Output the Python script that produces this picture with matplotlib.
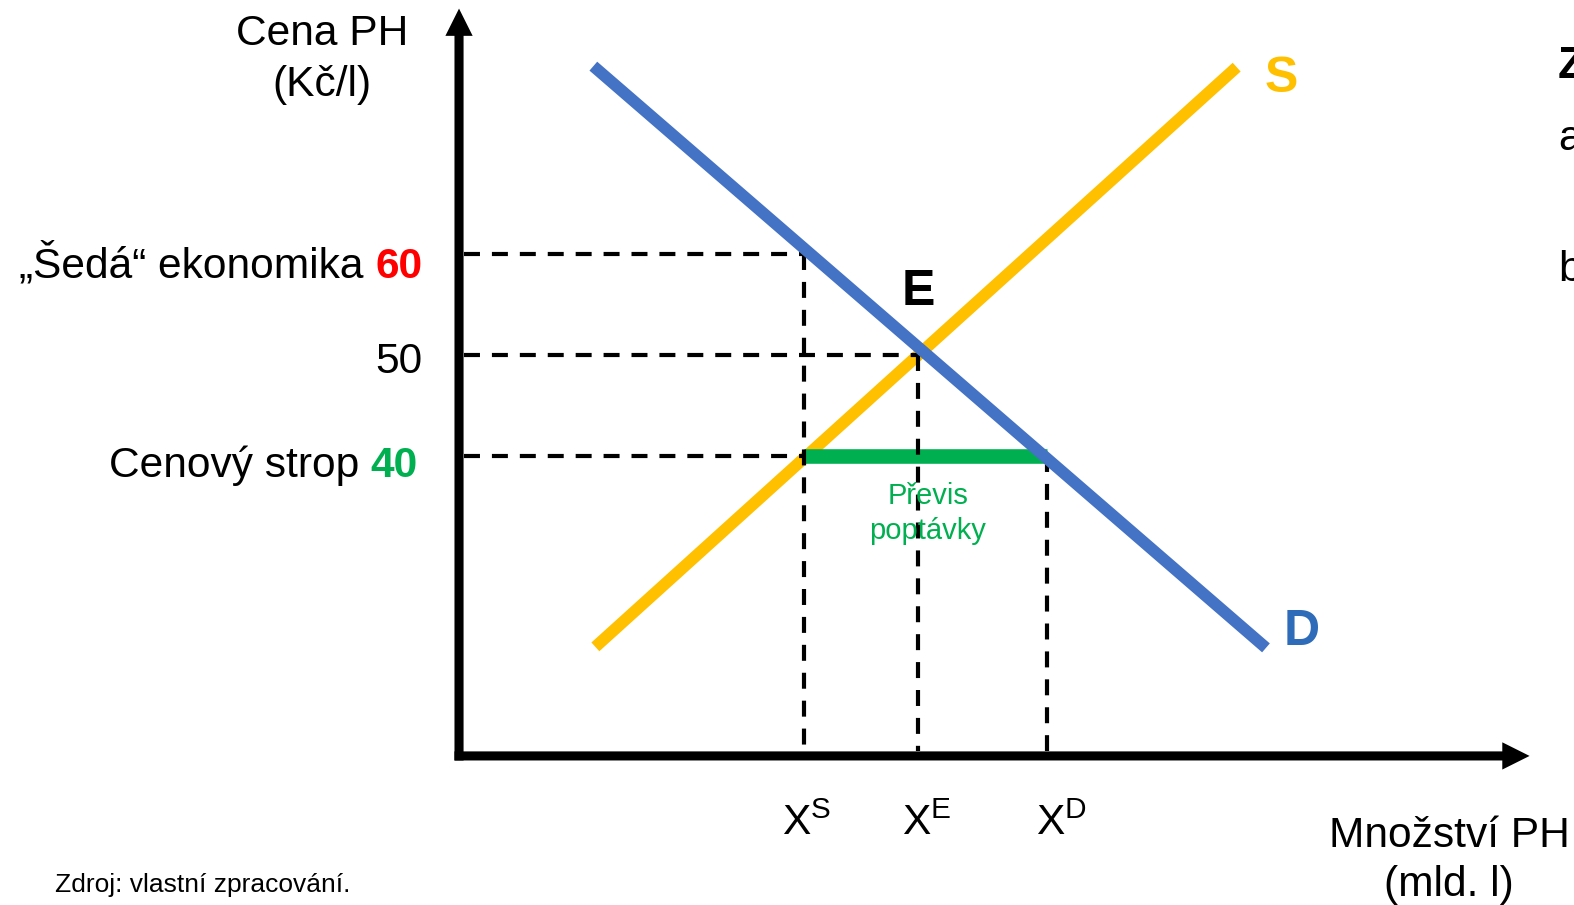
import matplotlib.pyplot as plt

plt.rcParams['font.family'] = ['Liberation Sans', 'DejaVu Sans']
plt.rcParams['mathtext.fontset'] = 'custom'
plt.rcParams['mathtext.rm'] = 'Liberation Sans'
plt.rcParams['lines.scale_dashes'] = False

# price levels (Kč/l) and their labels
price_levels = [60, 50, 40]
price_names = ['„Šedá“ ekonomika', '', 'Cenový strop']
price_colors = ['#FF0000', 'black', '#00B050']
price_weights = ['bold', 'normal', 'bold']
price_line_end = [34.2, 45.4, 34.2]     # quantity where the dashed line stops

# quantities on the x axis (schematic units)
x_marks = [34.2, 45.4, 58.2]
x_mark_tops = [60, 50, 40]
x_mark_names = ['S', 'E', 'D']

# supply and demand curves
supply_q = [13.5, 77.0]
supply_p = [21.1, 78.5]
demand_q = [13.3, 79.9]
demand_p = [78.6, 21.0]

# price ceiling and excess demand
ceiling = 40
excess_q = [34.2, 58.2]

q0, p0 = 0, 10.3          # axis origin
q_end, p_end = 106.0, 84.3  # arrow tips

yellow = '#FFC000'
blue = '#4472C4'
green = '#00B050'
FS = 30.6


def px(x, y):
    # pixel position of the original slide -> data units
    return (x - 459) / 10.1, 40 - (y - 456) / 10.1


fig = plt.figure(figsize=(15.74, 9.05), dpi=100)
ax = fig.add_axes([0, 0, 1, 1])
ax.set_xlim(-45.45, 110.4)
ax.set_ylim(-4.46, 85.15)
ax.axis('off')

# axes with arrows
ax.arrow(q0, p0 - 0.45, 0, p_end - p0 + 0.45, width=0.9, head_width=2.7,
         head_length=2.7, length_includes_head=True, color='black', lw=0, zorder=5)
ax.arrow(q0 - 0.45, p0, q_end - q0 + 0.45, 0, width=0.9, head_width=2.7,
         head_length=2.7, length_includes_head=True, color='black', lw=0, zorder=5)

# curves
ax.plot(supply_q, supply_p, color=yellow, lw=8.5, solid_capstyle='butt', zorder=2)
ax.plot(excess_q, [ceiling, ceiling], color=green, lw=10.5, solid_capstyle='butt', zorder=2.5)
ax.plot(demand_q, demand_p, color=blue, lw=8.5, solid_capstyle='butt', zorder=3)

dash = dict(color='black', lw=3.0, linestyle=(0, (11.5, 8.6)), zorder=2.7)
for p, q_stop in zip(price_levels, price_line_end):
    ax.plot([q0 + 0.45, q_stop], [p, p], **dash)
for q, top in zip(x_marks, x_mark_tops):
    ax.plot([q, q], [top, p0 + 0.45], **dash)

# price labels
num_offsets = [(-26, -17), (-26, -13), (-29.5, -15)]
for p, name, col, w, off in zip(price_levels, price_names, price_colors, price_weights,
                                num_offsets):
    num = ax.annotate(str(p), xy=(q0, p), xytext=off, textcoords='offset points',
                      ha='right', va='baseline', fontsize=FS, color=col, fontweight=w)
    if name:
        ax.annotate(name, xy=(0, 0), xycoords=num, xytext=(-8.5, 0),
                    textcoords='offset points', ha='right', va='bottom', fontsize=FS)

# quantity labels
label_shift = [-16, -11, -8]
for q, name, dx in zip(x_marks, x_mark_names, label_shift):
    ax.annotate(r'$\mathrm{X}^{\mathrm{%s}}$' % name, xy=(q, p0), xytext=(dx, -57),
                textcoords='offset points', ha='left', va='baseline', fontsize=FS)

# curve labels
ax.text(*px(918, 305), 'E', ha='center', va='baseline', fontsize=36, fontweight='bold')
ax.text(*px(1281, 92), 'S', ha='center', va='baseline', fontsize=36, fontweight='bold',
        color=yellow)
ax.text(*px(1302, 645), 'D', ha='center', va='baseline', fontsize=36, fontweight='bold',
        color='#2E6BB8')
ax.text(*px(928, 482), 'Převis\npoptávky', ha='center', va='top', fontsize=21,
        color=green, linespacing=1.32)

# axis titles
ax.text(*px(322, 45), 'Cena PH', ha='center', va='baseline', fontsize=FS)
ax.text(*px(322, 96), '(Kč/l)', ha='center', va='baseline', fontsize=FS)
ax.text(*px(1449, 847), 'Množství PH', ha='center', va='baseline', fontsize=FS)
ax.text(*px(1449, 896), '(mld. l)', ha='center', va='baseline', fontsize=FS)

ax.text(*px(55, 892), 'Zdroj: vlastní zpracování.', ha='left', va='baseline', fontsize=19)

# text cut off at the right edge of the slide
ax.text(*px(1558, 78), 'Z', ha='left', va='baseline', fontsize=32, fontweight='bold')
ax.text(*px(1558, 150), 'a', ha='left', va='baseline', fontsize=FS)
ax.text(*px(1558, 281), 'b', ha='left', va='baseline', fontsize=FS)

fig.savefig('out.png', dpi=100)
